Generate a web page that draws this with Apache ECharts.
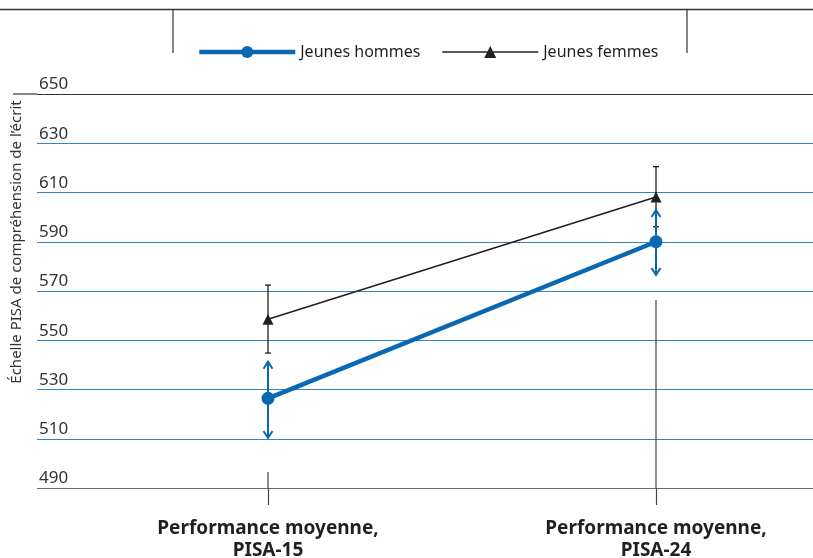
<!DOCTYPE html>
<html>
<head>
<meta charset="utf-8">
<script src="https://cdn.jsdelivr.net/npm/echarts@6/dist/echarts.min.js"></script>
<style>
  html, body { margin: 0; padding: 0; background: #fff; }
  #chart { width: 813px; height: 558px; }
</style>
</head>
<body>
<div id="chart"></div>
<script>
// Reading scores: young men vs young women, PISA-15 and PISA-24
const categories = ['Performance moyenne,\nPISA-15', 'Performance moyenne,\nPISA-24'];
const yTicks = [490, 510, 530, 550, 570, 590, 610, 630, 650];

const hommes = [526.4, 590.0];
const hommesLow = [510.3, 576.5];
const hommesHigh = [541.3, 602.9];

const femmes = [558.5, 608.2];
const femmesLow = [544.8, 596.1];
const femmesHigh = [572.4, 620.5];

// vertical guide lines rising from the baseline at each category
const guideTop = [496.5, 566.3];

const BLUE = '#0a68b3';
const GRID_BLUE = '#3584c6';
const INK = '#231f20';
const FONT = 'Noto Sans';

const chart = echarts.init(document.getElementById('chart'), null, { renderer: 'canvas' });

const gridColors = ['#6b6b6b'].concat(Array(yTicks.length - 2).fill(GRID_BLUE)).concat(['#333333']);

const option = {
  animation: false,
  backgroundColor: '#ffffff',
  textStyle: { fontFamily: FONT, color: INK },
  legend: {
    data: [
      { name: 'Jeunes hommes', lineStyle: { width: 4.5 } },
      { name: 'Jeunes femmes', lineStyle: { width: 1.6 } }
    ],
    left: 192,
    top: 39,
    itemWidth: 96,
    itemHeight: 15,
    itemGap: 21,
    textStyle: { fontFamily: FONT, fontSize: 16, color: INK }
  },
  grid: [
    { left: 37, right: 0, top: 94, bottom: 70, outerBoundsMode: 'none', containLabel: false },
    { left: 268, right: 157, top: 94, bottom: 70, outerBoundsMode: 'none', containLabel: false }
  ],
  xAxis: [
    { gridIndex: 0, type: 'value', show: false, min: 0, max: 1 },
    {
      gridIndex: 1,
      type: 'category',
      data: categories,
      boundaryGap: false,
      axisLine: { show: false },
      axisTick: { show: true, length: 17, lineStyle: { color: '#444', width: 1.2 } },
      axisLabel: {
        margin: 30,
        fontFamily: FONT,
        fontSize: 19,
        fontWeight: 'bold',
        lineHeight: 22,
        color: INK
      },
      splitLine: { show: false }
    }
  ],
  yAxis: [
    {
      gridIndex: 0,
      type: 'value',
      min: 490,
      max: 650,
      axisLine: { show: false },
      axisTick: { show: false, customValues: yTicks },
      axisLabel: {
        inside: true,
        margin: 2,
        customValues: yTicks,
        verticalAlign: 'bottom',
        lineHeight: 17,
        padding: [0, 0, 1, 0],
        fontFamily: FONT,
        fontSize: 17,
        color: '#333'
      },
      splitLine: { show: true, lineStyle: { color: gridColors, width: 1.2 } }
    },
    {
      gridIndex: 1,
      type: 'value',
      min: 490,
      max: 650,
      show: false,
      splitLine: { show: false }
    }
  ],
  graphic: [
    // frame rule across the top and the legend box sides
    { type: 'line', shape: { x1: 0, y1: 9.5, x2: 813, y2: 9.5 }, style: { stroke: '#333', lineWidth: 1.3 } },
    { type: 'line', shape: { x1: 173, y1: 9.5, x2: 173, y2: 53 }, style: { stroke: '#333', lineWidth: 1.2 } },
    { type: 'line', shape: { x1: 687, y1: 9.5, x2: 687, y2: 53 }, style: { stroke: '#333', lineWidth: 1.2 } },
    // top rule extends left past the labels
    { type: 'line', shape: { x1: 13, y1: 94, x2: 37, y2: 94 }, style: { stroke: '#333', lineWidth: 1.2 } },
    {
      type: 'text',
      x: 17,
      y: 242,
      rotation: Math.PI / 2,
      style: {
        text: 'Échelle PISA de compréhension de l\u2019écrit',
        font: '15px "Noto Sans"',
        fill: '#333',
        align: 'center',
        verticalAlign: 'middle'
      }
    }
  ],
  series: [
    {
      name: 'guides',
      type: 'custom',
      xAxisIndex: 1,
      yAxisIndex: 1,
      z: 1,
      silent: true,
      data: guideTop.map((v, i) => [i, v]),
      renderItem: function (params, api) {
        const i = api.value(0);
        const a = api.coord([i, 490]);
        const b = api.coord([i, api.value(1)]);
        return {
          type: 'line',
          shape: { x1: a[0], y1: a[1], x2: b[0], y2: b[1] },
          style: { stroke: '#444', lineWidth: 1.2 }
        };
      }
    },
    {
      name: 'femmesErr',
      type: 'custom',
      xAxisIndex: 1,
      yAxisIndex: 1,
      z: 2,
      silent: true,
      data: femmes.map((v, i) => [i, femmesLow[i], femmesHigh[i]]),
      renderItem: function (params, api) {
        const i = api.value(0);
        const lo = api.coord([i, api.value(1)]);
        const hi = api.coord([i, api.value(2)]);
        const x = lo[0];
        const st = { stroke: INK, lineWidth: 1.3 };
        return {
          type: 'group',
          children: [
            { type: 'line', shape: { x1: x, y1: lo[1], x2: x, y2: hi[1] }, style: st },
            { type: 'line', shape: { x1: x - 3, y1: lo[1], x2: x + 3, y2: lo[1] }, style: st },
            { type: 'line', shape: { x1: x - 3, y1: hi[1], x2: x + 3, y2: hi[1] }, style: st }
          ]
        };
      }
    },
    {
      name: 'hommesErr',
      type: 'custom',
      xAxisIndex: 1,
      yAxisIndex: 1,
      z: 3,
      silent: true,
      data: hommes.map((v, i) => [i, hommesLow[i], hommesHigh[i]]),
      renderItem: function (params, api) {
        const i = api.value(0);
        const lo = api.coord([i, api.value(1)]);
        const hi = api.coord([i, api.value(2)]);
        const x = lo[0];
        const st = { stroke: BLUE, lineWidth: 2, fill: null };
        return {
          type: 'group',
          children: [
            { type: 'line', shape: { x1: x, y1: lo[1], x2: x, y2: hi[1] }, style: st },
            { type: 'polyline', shape: { points: [[x - 4.5, hi[1] + 7], [x, hi[1]], [x + 4.5, hi[1] + 7]] }, style: st },
            { type: 'polyline', shape: { points: [[x - 4.5, lo[1] - 7], [x, lo[1]], [x + 4.5, lo[1] - 7]] }, style: st }
          ]
        };
      }
    },
    {
      name: 'Jeunes femmes',
      type: 'line',
      xAxisIndex: 1,
      yAxisIndex: 1,
      z: 4,
      data: femmes,
      symbol: 'triangle',
      symbolSize: 11,
      lineStyle: { color: INK, width: 1.6 },
      itemStyle: { color: INK }
    },
    {
      name: 'Jeunes hommes',
      type: 'line',
      xAxisIndex: 1,
      yAxisIndex: 1,
      z: 5,
      data: hommes,
      symbol: 'circle',
      symbolSize: 13,
      lineStyle: { color: BLUE, width: 4.5 },
      itemStyle: { color: BLUE }
    }
  ]
};

chart.setOption(option);
</script>
</body>
</html>
